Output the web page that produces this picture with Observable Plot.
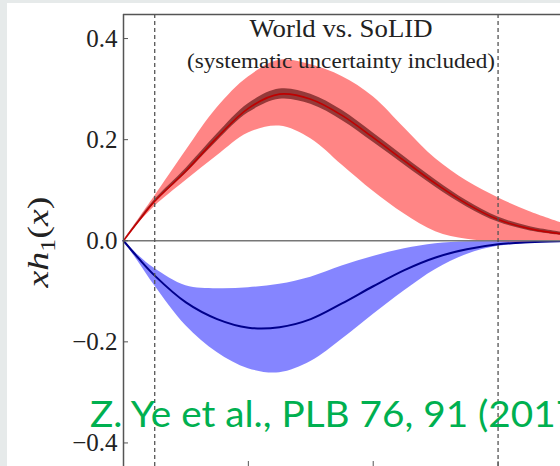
<!DOCTYPE html>
<html><head><meta charset="utf-8">
<script src="https://cdn.jsdelivr.net/npm/d3@7"></script>
<script src="https://cdn.jsdelivr.net/npm/@observablehq/plot@0.6"></script>
<style>
body{margin:0;background:#e6eaea;width:560px;height:466px;overflow:hidden;position:relative;}
#card{position:absolute;left:7px;top:3px;width:553px;height:463px;background:#fff;}
#chart{position:absolute;left:0;top:0;}
.ov{position:absolute;white-space:nowrap;line-height:1;}
#title{font-family:"Liberation Serif",serif;font-size:25px;color:#222;top:16px;}
#sub{font-family:"Liberation Serif",serif;font-size:20px;color:#222;top:51px;}
#cite{font-family:Lato,sans-serif;font-size:37.5px;color:#00b050;left:90px;top:394px;transform-origin:0 0;}
#ylab{font-family:"Liberation Serif",serif;font-size:30px;color:#222;left:41px;top:242px;}
#ylab sub{font-size:0.68em;font-style:normal;}
</style></head><body>
<div id="card"></div>
<div id="chart"></div>
<div class="ov" id="title">World vs. SoLID</div>
<div class="ov" id="sub">(systematic uncertainty included)</div>
<div class="ov" id="cite"><span id="citep">Z. Ye et al., PLB 76, 91 </span>(2017)</div>
<div class="ov" id="ylab"><i>xh</i><sub>1</sub>(<i>x</i>)</div>
<script>
const xs        = [0, 0.025, 0.05, 0.1, 0.15, 0.2, 0.25, 0.3, 0.35, 0.4, 0.45, 0.5, 0.55, 0.6, 0.65, 0.7];
const redMid    = [0, 0.040, 0.078, 0.138, 0.204, 0.262, 0.290, 0.280, 0.248, 0.204, 0.158, 0.113, 0.073, 0.042, 0.024, 0.014];
const redHi     = [0, 0.044, 0.088, 0.178, 0.263, 0.324, 0.357, 0.348, 0.325, 0.285, 0.223, 0.162, 0.118, 0.085, 0.058, 0.036];
const redLo     = [0, 0.036, 0.068, 0.119, 0.168, 0.213, 0.227, 0.202, 0.150, 0.098, 0.053, 0.018, 0.003, -0.002, -0.003, -0.002];
const redInHi   = [0, 0.042, 0.081, 0.143, 0.211, 0.271, 0.300, 0.290, 0.258, 0.213, 0.166, 0.120, 0.079, 0.047, 0.028, 0.017];
const redInLo   = [0, 0.038, 0.075, 0.133, 0.197, 0.253, 0.280, 0.270, 0.238, 0.195, 0.150, 0.106, 0.067, 0.037, 0.020, 0.011];
const blueMid   = [0, -0.036, -0.069, -0.122, -0.155, -0.172, -0.171, -0.155, -0.124, -0.090, -0.058, -0.033, -0.017, -0.007, -0.003, -0.001];
const blueHi    = [0, -0.030, -0.055, -0.089, -0.095, -0.093, -0.086, -0.072, -0.050, -0.031, -0.016, -0.006, -0.002, -0.001, 0, 0];
const blueLo    = [0, -0.044, -0.089, -0.168, -0.221, -0.253, -0.261, -0.239, -0.195, -0.146, -0.099, -0.057, -0.027, -0.011, -0.005, -0.002];
const dashX     = [0.05, 0.6];
const yTicks    = [-0.4, -0.2, 0.0, 0.2, 0.4];
const xTicks    = [0.2, 0.4, 0.6];
const yMax = 0.4476, yMin = -0.4466;

const red = xs.map((x, i) => ({x, c: redMid[i], hi: redHi[i], lo: redLo[i], ihi: redInHi[i], ilo: redInLo[i]}));
const blue = xs.map((x, i) => ({x, c: blueMid[i], hi: blueHi[i], lo: blueLo[i]}));
const curve = "catmull-rom";

const chart = Plot.plot({
  width: 560, height: 466,
  marginLeft: 123, marginRight: 0, marginTop: 14, marginBottom: 0,
  x: {domain: [0, 0.7], label: null},
  y: {domain: [yMin, yMax], label: null},
  style: {background: "transparent", fontFamily: "Liberation Serif", fontSize: "25px", color: "#222"},
  marks: [
    Plot.areaY(blue, {x: "x", y1: "lo", y2: "hi", fill: "#0000ff", fillOpacity: 0.48, curve}),
    Plot.areaY(red, {x: "x", y1: "lo", y2: "hi", fill: "#ff0000", fillOpacity: 0.48, curve}),
    Plot.areaY(red, {x: "x", y1: "ilo", y2: "ihi", fill: "#7a2626", fillOpacity: 0.8, curve}),
    Plot.line(red, {x: "x", y: "c", stroke: "#c00000", strokeWidth: 1.6, curve}),
    Plot.line(blue, {x: "x", y: "c", stroke: "#00008b", strokeWidth: 2, curve}),
    Plot.ruleY([0], {stroke: "#777", strokeWidth: 1.5}),
    Plot.ruleX(dashX, {stroke: "#555", strokeDasharray: "4,3", strokeWidth: 1.3}),
    Plot.ruleX([0], {stroke: "#555", strokeWidth: 1.5}),
    Plot.ruleY([yMax], {stroke: "#555", strokeWidth: 1.5}),
    Plot.axisY(yTicks, {tickSize: 5, dx: 5, text: null, stroke: "#555", label: null}),
    Plot.axisY(yTicks, {tickSize: 0, tickPadding: 6, tickFormat: d3.format(".1f"), fontSize: 25, label: null}),
    Plot.axisX(xTicks, {tickSize: 5, dy: -5, text: null, stroke: "#555", label: null})
  ]
});
document.getElementById("chart").appendChild(chart);

function fit(id, target, cx) {
  const el = document.getElementById(id);
  const w = el.getBoundingClientRect().width;
  el.style.left = cx + "px";
  el.style.transform = `translateX(-50%) scaleX(${target / w})`;
}
fit("title", 183, 341);
fit("sub", 308, 341);
const cp = document.getElementById("citep").getBoundingClientRect().width;
document.getElementById("cite").style.transform = `scaleX(${388 / cp})`;
const yl = document.getElementById("ylab");
const yw = yl.getBoundingClientRect().width;
yl.style.transform = `translate(-50%,-50%) rotate(-90deg) scaleX(${91 / yw})`;
</script>
</body></html>
